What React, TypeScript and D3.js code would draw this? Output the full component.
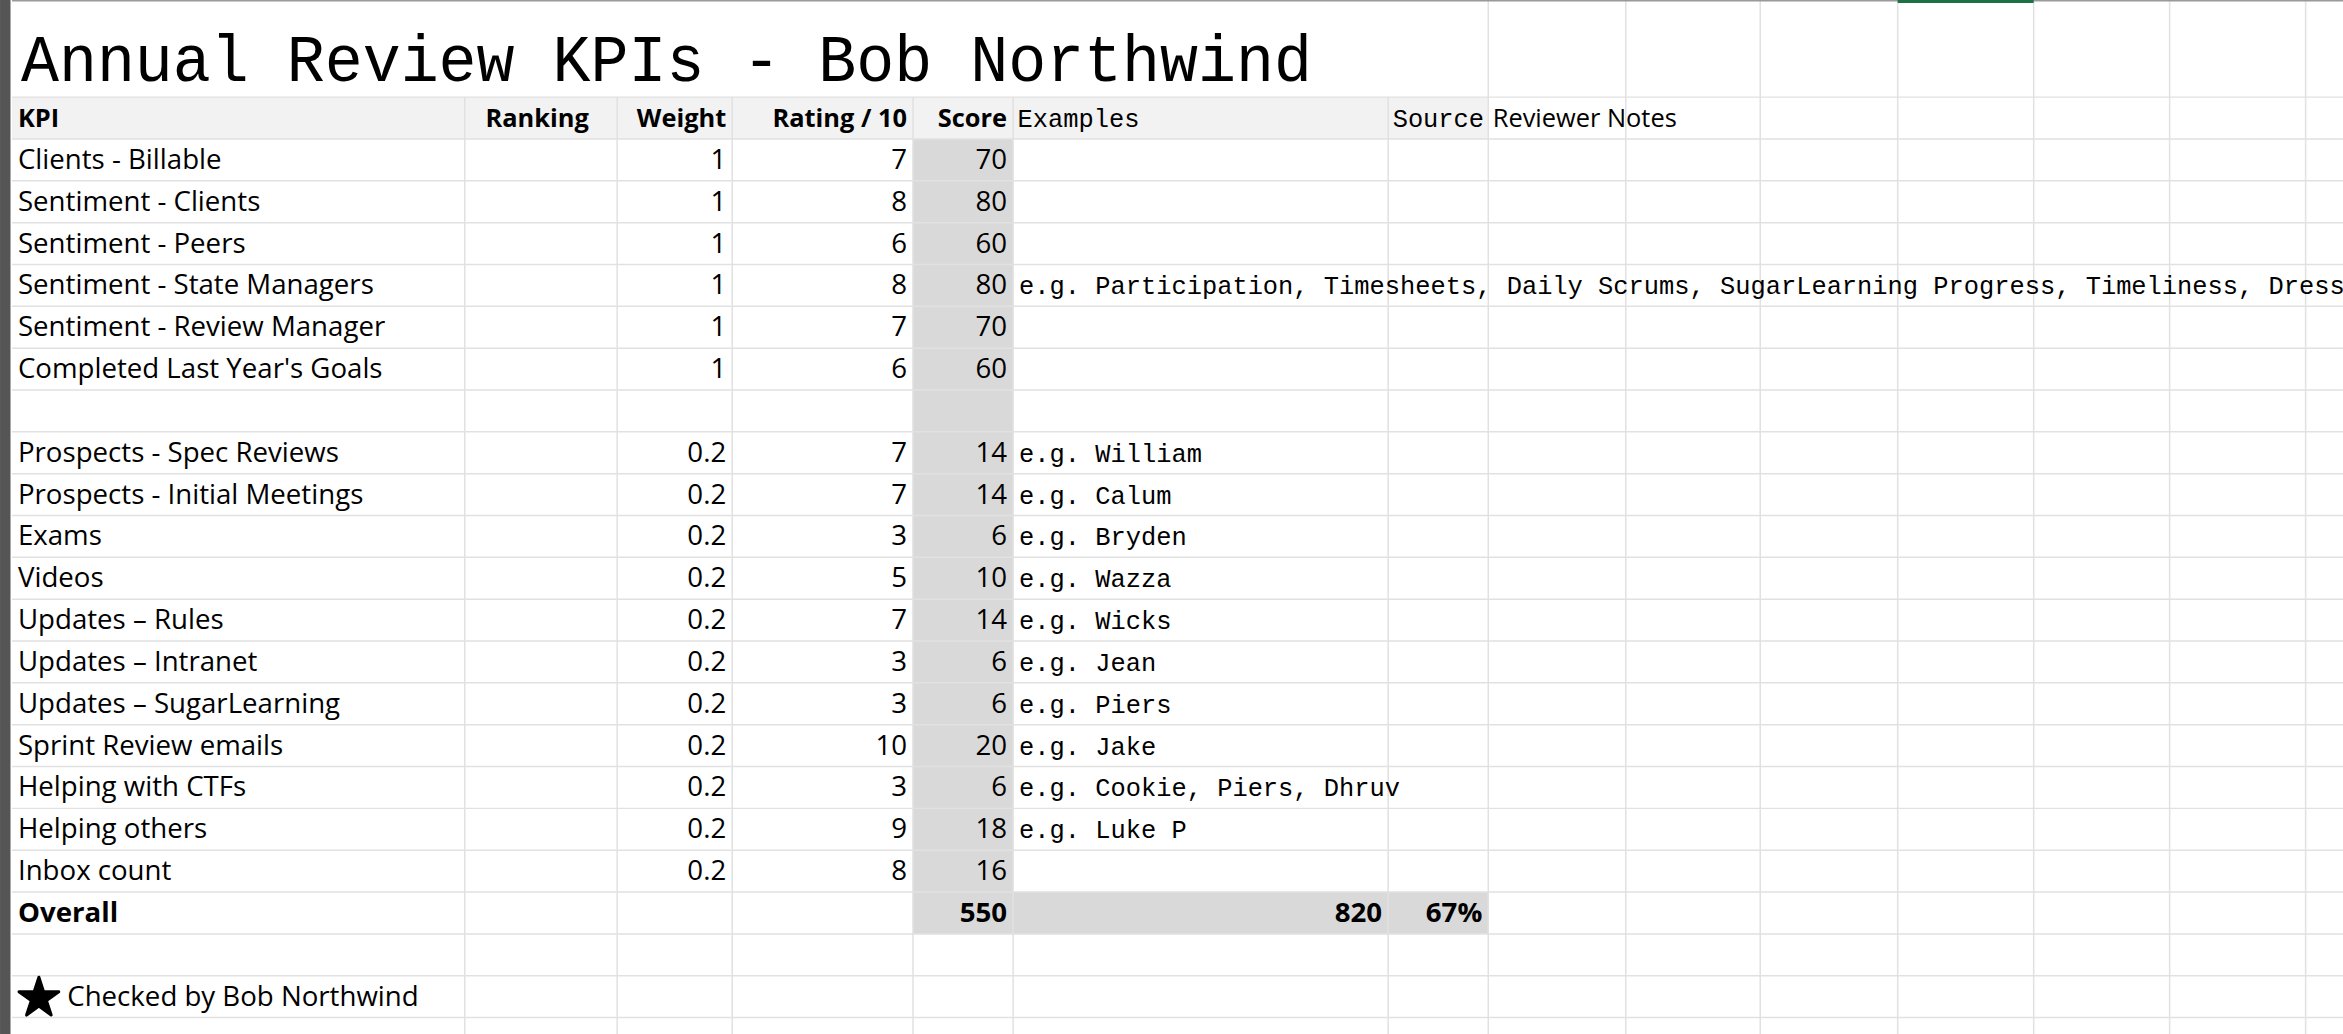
import React from "react";
import * as d3 from "d3";

const kpis = ["Clients - Billable","Sentiment - Clients","Sentiment - Peers","Sentiment - State Managers","Sentiment - Review Manager","Completed Last Year's Goals","","Prospects - Spec Reviews","Prospects - Initial Meetings","Exams","Videos","Updates – Rules","Updates – Intranet","Updates – SugarLearning","Sprint Review emails","Helping with CTFs","Helping others","Inbox count"];
const weights = ["1","1","1","1","1","1","","0.2","0.2","0.2","0.2","0.2","0.2","0.2","0.2","0.2","0.2","0.2"];
const ratings = ["7","8","6","8","7","6","","7","7","3","5","7","3","3","10","3","9","8"];
const scores = ["70","80","60","80","70","60","","14","14","6","10","14","6","6","20","6","18","16"];
const examples = ["","","","e.g. Participation, Timesheets, Daily Scrums, SugarLearning Progress, Timeliness, Dress","","","","e.g. William","e.g. Calum","e.g. Bryden","e.g. Wazza","e.g. Wicks","e.g. Jean","e.g. Piers","e.g. Jake","e.g. Cookie, Piers, Dhruv","e.g. Luke P",""];
const headers = ["KPI","Ranking","Weight","Rating / 10","Score","Examples","Source","Reviewer Notes"];
const overall = { score: "550", max: "820", pct: "67%" };

const colX = [8, 311, 413, 490, 611, 678, 929, 996, 1088, 1178, 1270, 1361, 1452, 1543, 1568];
const rowY = d3.range(0, 25).map(i => (i === 0 ? 0 : 65 + (i - 1) * 28));
const sans = "'Open Sans', 'Noto Sans', sans-serif";
const serif = "'Liberation Mono', 'DejaVu Sans Mono', monospace";

export default function App() {
  const y = (i: number) => rowY[i];
  const mid = (i: number) => (rowY[i] + rowY[i + 1]) / 2 + 6;
  return (
    <svg width={2343} height={1034} viewBox="0 0 1568 692" style={{ position: "absolute", left: 0, top: 0, background: "#fff" }}>
      <rect x={0} y={0} width={1568} height={692} fill="#fff" />
      <rect x={0} y={0} width={7} height={692} fill="#555" />
      <rect x={8} y={y(1)} width={988} height={28} fill="#f2f2f2" />
      <rect x={611} y={y(2)} width={67} height={y(20) - y(2)} fill="#d9d9d9" />
      <rect x={611} y={y(20)} width={385} height={28} fill="#d9d9d9" />
      {colX.slice(1, -1).map((x, i) => (
        <line key={"v" + i} x1={x} x2={x} y1={x >= 996 ? 0 : y(1)} y2={692} stroke="#e1e1e1" />
      ))}
      {rowY.slice(1).map((yy, i) => (
        <line key={"h" + i} x1={8} x2={1568} y1={yy} y2={yy} stroke="#e1e1e1" />
      ))}
      <line x1={8} x2={1568} y1={0.5} y2={0.5} stroke="#999" />
      <line x1={1270} x2={1361} y1={1} y2={1} stroke="#1e7145" strokeWidth={2} />
      <text x={14} y={54} fontFamily={serif} fontSize={44} textLength={864} lengthAdjust="spacingAndGlyphs" fill="#000">Annual Review KPIs - Bob Northwind</text>
      {headers.map((h, i) => {
        const bold = i < 5;
        const anchor = i === 0 ? "start" : i < 5 ? "end" : "start";
        const x = i === 0 ? 12 : i === 1 ? 394 : i < 5 ? colX[i + 1] - 4 : colX[i] + 3;
        return (
          <text key={h} x={x} y={mid(1)} textAnchor={anchor} fontFamily={i === 5 || i === 6 ? serif : sans}
            fontWeight={bold ? 700 : 400} fontSize={i === 5 || i === 6 ? 17 : 17}>{h}</text>
        );
      })}
      {kpis.map((k, i) => (
        <g key={i} fontSize={18.5} fontFamily={sans}>
          <text x={12} y={mid(i + 2)}>{k}</text>
          <text x={486} y={mid(i + 2)} textAnchor="end">{weights[i]}</text>
          <text x={607} y={mid(i + 2)} textAnchor="end">{ratings[i]}</text>
          <text x={674} y={mid(i + 2)} textAnchor="end">{scores[i]}</text>
          <text x={682} y={mid(i + 2)} fontFamily={serif} fontSize={17}>{examples[i]}</text>
        </g>
      ))}
      <g fontSize={18.5} fontFamily={sans} fontWeight={700}>
        <text x={12} y={mid(20)}>Overall</text>
        <text x={674} y={mid(20)} textAnchor="end">{overall.score}</text>
        <text x={925} y={mid(20)} textAnchor="end">{overall.max}</text>
        <text x={992} y={mid(20)} textAnchor="end">{overall.pct}</text>
      </g>
      <path d={d3.symbol(d3.symbolStar, 220)() || ""} transform={`translate(26,${(y(22) + y(23)) / 2 + 1})`} fill="#000" stroke="#000" strokeWidth={2} strokeLinejoin="round" />
      <text x={45} y={mid(22)} fontSize={18.5} fontFamily={sans}>Checked by Bob Northwind</text>
    </svg>
  );
}
